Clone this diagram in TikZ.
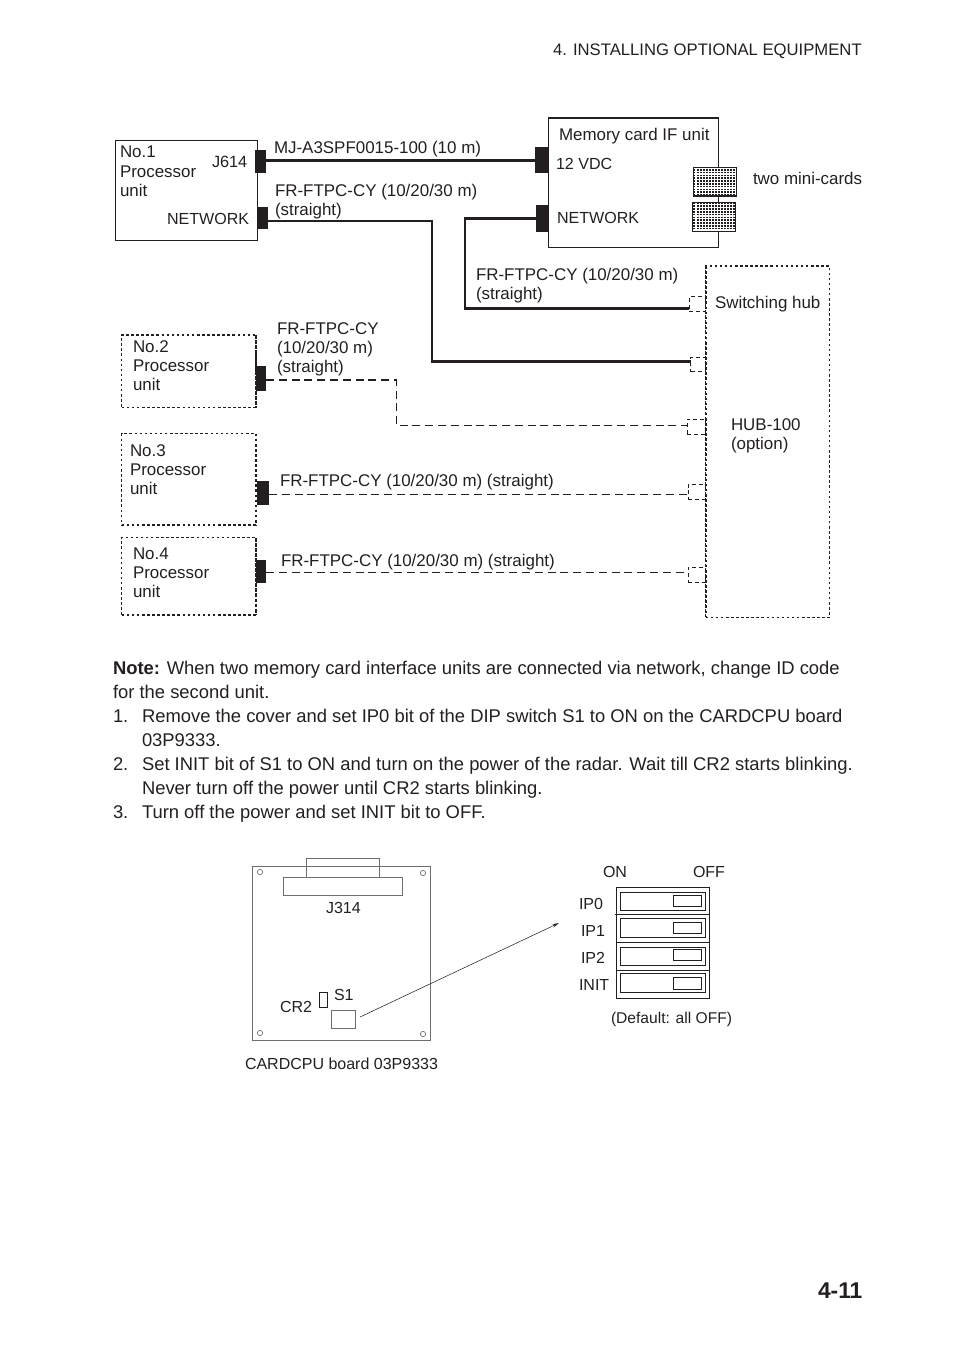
\documentclass[tikz,border=0pt]{standalone}
\usepackage{fontspec}
\setmainfont{Liberation Sans}
\usetikzlibrary{fit,patterns,arrows.meta}
\definecolor{ink}{RGB}{35,31,32}
\definecolor{brd}{RGB}{110,110,110}
\pgfdeclarepatternformonly{cardcells}{\pgfqpoint{-0.1pt}{-0.1pt}}{\pgfqpoint{2.4pt}{2.2pt}}{\pgfqpoint{2.3pt}{2.1pt}}{%
  \pgfpathrectangle{\pgfqpoint{0.3pt}{0.4pt}}{\pgfqpoint{1.5pt}{1.2pt}}\pgfusepath{fill}}
\newcommand{\Lab}[4][lbl]{\node[#1] (#2) at (#3) {#4};}
\newcommand{\Bx}[4][solidbox]{\node[#1,fit={(#3)(#4)}] (#2) {};}
\tikzset{
 x=0.75pt,y=-0.75pt,
 lbl/.style={anchor=north west,inner sep=0pt,outer sep=0pt,align=left,text=ink,yshift=14pt,
   execute at begin node={\rule{0pt}{14pt}},font=\fontsize{12.7}{14.3}\selectfont},
 mlbl/.style={lbl,yshift=-6pt},
 smalllbl/.style={lbl,font=\fontsize{12.2}{14}\selectfont},
 netlbl/.style={lbl,font=\fontsize{12.05}{14}\selectfont},
 pcblbl/.style={lbl,font=\fontsize{12}{14}\selectfont},
 deflbl/.style={lbl,font=\fontsize{11.7}{14}\selectfont},
 bodylbl/.style={lbl,font=\fontsize{13.8}{18}\selectfont},
 mbody/.style={bodylbl,yshift=-4.5pt},
 headlbl/.style={lbl,font=\fontsize{12.5}{15}\selectfont},
 pagelbl/.style={lbl,font=\fontsize{17.1}{22}\selectfont\bfseries},
 solidbox/.style={draw=ink,line width=0.75pt,inner sep=0pt,outer sep=0pt},
 dotbox/.style={draw=ink,line width=0.8pt,inner sep=0pt,outer sep=0pt,dash pattern=on 1.9pt off 1.9pt},
 conn/.style={fill=ink,draw=none,inner sep=0pt,outer sep=0pt},
 port/.style={draw=ink,line width=0.6pt,inner sep=0pt,outer sep=0pt,dash pattern=on 3pt off 2.2pt},
 card/.style={draw=ink,line width=0.8pt,fill=white,inner sep=0pt,outer sep=0pt,
   postaction={pattern=cardcells,pattern color=ink}},
 fatline/.style={draw=ink,line width=2.2pt,line join=miter},
 dashmid/.style={draw=ink,line width=1pt,dash pattern=on 6pt off 3.6pt},
 dashthin/.style={draw=ink,line width=0.5pt,dash pattern=on 6pt off 3.6pt},
 thickdot/.style={draw=ink,line width=1.3pt,dash pattern=on 1.9pt off 1.9pt},
 board/.style={draw=brd,line width=0.7pt,inner sep=0pt,outer sep=0pt},
 part/.style={draw=brd,line width=0.7pt,inner sep=0pt,outer sep=0pt},
 hole/.style={circle,draw=brd,line width=0.5pt,minimum size=4pt,inner sep=0pt},
 dip/.style={draw=ink,line width=0.7pt,inner sep=0pt,outer sep=0pt},
 pointer/.style={draw=ink,line width=0.4pt,-{Stealth[length=5pt,width=2.5pt]}},
}
\begin{document}
\begin{tikzpicture}
\useasboundingbox (0,0) rectangle (954,1350);
% header
\Lab[headlbl]{head}{553,55}{4. INSTALLING OPTIONAL EQUIPMENT}
\Lab[pagelbl]{pageno}{818,1298}{4-11}
% units
\Bx{unitA}{115.7,140.7}{257.3,240}
\Bx{mem}{548.3,118}{718.7,247.3}
\Bx[dotbox]{unitB}{121.7,335}{256,407.7}
\Bx[dotbox]{unitC}{121.7,433.7}{256,525}
\Bx[dotbox]{unitD}{121.7,537.7}{256,615}
\Bx[dotbox]{hub}{705.7,266}{829.7,617.3}
\draw[thickdot] (hub.north west) -- (hub.south west);
\draw[thickdot] (unitB.north east) -- (unitB.south east);
\draw[thickdot] (unitC.north east) -- (unitC.south east);
\draw[thickdot] (unitD.north east) -- (unitD.south east);
\draw[draw=ink,line width=1.4pt] (mem.north west) -- (mem.north east);
% connectors
\Bx[conn]{cJ}{255,150}{266,173}
\Bx[conn]{cN}{257,207}{268,228.7}
\Bx[conn]{cV}{535,147}{548.3,172.7}
\Bx[conn]{cM}{536,205}{548.3,231.7}
\Bx[conn]{cB}{256.3,366}{266,390.7}
\Bx[conn]{cC}{256.7,481}{269,504.7}
\Bx[conn]{cD}{256,560}{266,582.7}
% ports
\Bx[port]{p1}{689.3,296.7}{705.7,311.3}
\Bx[port]{p2}{690.7,357.7}{705.7,371.7}
\Bx[port]{p3}{687.3,419.3}{705.7,434}
\Bx[port]{p4}{688,484.7}{705.7,499}
\Bx[port]{p5}{688,567.7}{705.7,582.3}
% mini cards
\Bx[card]{card1}{693.3,167.3}{736.3,196}
\Bx[card]{card2}{692.3,202.7}{735.7,231.7}
\draw[draw=ink,line width=1.4pt] (card1.south west) -- (card1.south east);
% lines
\coordinate (yJ) at (400,160.7);
\coordinate (cornerN1) at (432,221);
\coordinate (cornerN2) at (432,361.7);
\coordinate (cornerM1) at (465,218.3);
\coordinate (cornerM2) at (465,308.3);
\coordinate (cornerB1) at (396.3,380);
\coordinate (cornerB2) at (396.3,425.7);
\coordinate (yC) at (400,494.3);
\coordinate (yD) at (400,572.3);
\draw[fatline] (cJ.east |- yJ) -- (cV.west |- yJ);
\draw[fatline] (cN.east |- cornerN1) -- (cornerN1) -- (cornerN2) -- (p2.west |- cornerN2);
\draw[fatline] (cM.west |- cornerM1) -- (cornerM1) -- (cornerM2) -- (p1.west |- cornerM2);
\draw[dashmid] (cB.east |- cornerB1) -- (cornerB1) -- (cornerB2) -- (p3.west |- cornerB2);
\draw[dashthin] (cC.east |- yC) -- (p4.west |- yC);
\draw[dashthin] (cD.east |- yD) -- (p5.west |- yD);
% diagram labels
\Lab[mlbl]{tA}{120,157}{No.1\\Processor\\unit}
\Lab[smalllbl]{tJ}{212,167}{J614}
\Lab[netlbl]{tNa}{167,224}{NETWORK}
\Lab{tMJ}{274,153}{MJ-A3SPF0015-100 (10 m)}
\Lab[mlbl]{tF1}{275,195}{FR-FTPC-CY (10/20/30 m)\\(straight)}
\Lab{tMem}{559,140}{Memory card IF unit}
\Lab[netlbl]{tV}{556,169}{12 VDC}
\Lab[netlbl]{tNb}{557,223}{NETWORK}
\Lab{tCards}{753,184}{two mini-cards}
\Lab[mlbl]{tF2}{476,279}{FR-FTPC-CY (10/20/30 m)\\(straight)}
\Lab{tSw}{715,308}{Switching hub}
\Lab[mlbl]{tHub}{731,429}{HUB-100\\(option)}
\Lab[mlbl]{tB}{133,351}{No.2\\Processor\\unit}
\Lab[mlbl]{tF3}{277,333}{FR-FTPC-CY\\(10/20/30 m)\\(straight)}
\Lab[mlbl]{tC}{130,455}{No.3\\Processor\\unit}
\Lab{tF4}{280,486}{FR-FTPC-CY (10/20/30 m) (straight)}
\Lab[mlbl]{tD}{133,558.5}{No.4\\Processor\\unit}
\Lab{tF5}{281,566}{FR-FTPC-CY (10/20/30 m) (straight)}
% note
\Lab[mbody]{note}{113,674}{\textbf{Note:} When two memory card interface units are connected via network, change ID code\\for the second unit.}
\Lab[bodylbl]{n1}{113,722}{1.}
\Lab[mbody]{i1}{142,722}{Remove the cover and set IP0 bit of the DIP switch S1 to ON on the CARDCPU board\\03P9333.}
\Lab[bodylbl]{n2}{113,770}{2.}
\Lab[mbody]{i2}{142,770}{Set INIT bit of S1 to ON and turn on the power of the radar. Wait till CR2 starts blinking.\\Never turn off the power until CR2 starts blinking.}
\Lab[bodylbl]{n3}{113,818}{3.}
\Lab[bodylbl]{i3}{142,818}{Turn off the power and set INIT bit to OFF.}
% board
\Bx[board]{pcb}{252,866}{430,1040}
\Bx[part]{plug}{306,858}{379,877}
\Bx[part]{jack}{283,877}{402,895}
\node[hole] (h1) at (260,872) {};
\node[hole] (h2) at (423,873) {};
\node[hole] (h3) at (260,1033) {};
\node[hole] (h4) at (423,1034) {};
\Bx[dip]{cr}{319,992}{327,1007}
\Bx[part]{sw}{331,1010}{355,1028}
\Lab[pcblbl]{tJ3}{326,913}{J314}
\Lab[pcblbl]{tCR}{280,1012}{CR2}
\Lab[pcblbl]{tS}{334,1000}{S1}
\Lab[pcblbl]{tBoard}{245,1069}{CARDCPU board 03P9333}
% dip switch
\Bx[dip]{dipo}{616,887}{709,998}
\coordinate (d0) at (615,914);
\coordinate (d1) at (616,942);
\coordinate (d2) at (616,970);
\draw[dip] (d0) -- (dipo.east |- d0);
\draw[dip] (d1) -- (dipo.east |- d1);
\draw[dip] (d2) -- (dipo.east |- d2);
\Bx[dip]{s1}{620,892}{705,910}
\Bx[dip]{s2}{620,918}{705,937}
\Bx[dip]{s3}{620,947}{705,965}
\Bx[dip]{s4}{620,973}{705,992}
\Bx[dip]{k1}{673,895}{701,906}
\Bx[dip]{k2}{673,922}{701,933}
\Bx[dip]{k3}{673,949}{701,960}
\Bx[dip]{k4}{673,977}{701,989}
\Lab[pcblbl]{tOn}{603,877}{ON}
\Lab[pcblbl]{tOff}{693,877}{OFF}
\Lab[pcblbl]{tI0}{579,909}{IP0}
\Lab[pcblbl]{tI1}{581,936}{IP1}
\Lab[pcblbl]{tI2}{581,963}{IP2}
\Lab[pcblbl]{tI3}{579,990}{INIT}
\Lab[deflbl]{tDef}{611,1023}{(Default: all OFF)}
\coordinate (ptrS) at (360,1017);
\coordinate (ptrE) at (559,923);
\draw[pointer] (ptrS) -- (ptrE);
\end{tikzpicture}
\end{document}
